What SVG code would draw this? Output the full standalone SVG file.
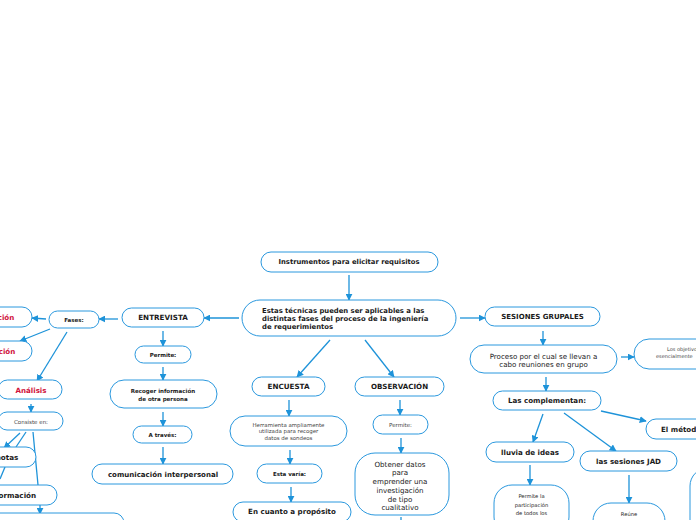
<svg xmlns="http://www.w3.org/2000/svg" width="696" height="520" viewBox="0 0 696 520">
<defs>
<marker id="ah" viewBox="0 0 10 10" refX="9" refY="5" markerWidth="7" markerHeight="7" markerUnits="userSpaceOnUse" orient="auto">
<path d="M0,0 L10,5 L0,10 z" fill="#1e93d9"/>
</marker>
<style>
.n{fill:#fff;stroke:#2a98de;stroke-width:1}
.c line{stroke:#1e93d9;stroke-width:1.3;fill:none}
.a{marker-end:url(#ah)}
text{font-family:"DejaVu Sans","Verdana",sans-serif;fill:#1a1a1a;text-anchor:middle;dominant-baseline:central}
.b{font-weight:bold}
.r{fill:#d0103a;font-weight:bold}
.g{fill:#444}
</style>
</defs>
<rect width="696" height="520" fill="#fff"/>

<g class="c">
<line class="a" x1="349" y1="275" x2="349" y2="300"/>
<line class="a" x1="239" y1="318" x2="204" y2="318"/>
<line class="a" x1="118" y1="319" x2="99" y2="319"/>
<line class="a" x1="46" y1="319" x2="32" y2="318"/>
<line class="a" x1="50" y1="329" x2="20" y2="341"/>
<line class="a" x1="67" y1="332" x2="37" y2="381"/>
<line class="a" x1="31" y1="404" x2="31" y2="412"/>
<line class="a" x1="20" y1="433" x2="4" y2="448"/>
<line x1="26" y1="432" x2="16" y2="447"/>
<line x1="5" y1="467" x2="0" y2="479"/>
<line x1="33" y1="432" x2="38" y2="485"/>
<line class="a" x1="40" y1="505" x2="40" y2="514"/>
<line class="a" x1="163" y1="331" x2="163" y2="346"/>
<line class="a" x1="163" y1="367" x2="163" y2="380"/>
<line class="a" x1="163" y1="412" x2="163" y2="426"/>
<line class="a" x1="163" y1="447" x2="163" y2="464"/>
<line class="a" x1="330" y1="340" x2="297" y2="377"/>
<line class="a" x1="289" y1="400" x2="289" y2="416"/>
<line class="a" x1="290" y1="450" x2="290" y2="464"/>
<line class="a" x1="291" y1="487" x2="291" y2="502"/>
<line class="a" x1="365" y1="340" x2="394" y2="377"/>
<line class="a" x1="400" y1="400" x2="400" y2="415"/>
<line class="a" x1="401" y1="438" x2="401" y2="453"/>
<line x1="401" y1="517" x2="401" y2="520"/>
<line class="a" x1="460" y1="318" x2="485" y2="318"/>
<line class="a" x1="543" y1="331" x2="543" y2="345"/>
<line class="a" x1="621" y1="357" x2="634" y2="357"/>
<line class="a" x1="546" y1="377" x2="546" y2="391"/>
<line class="a" x1="601" y1="411" x2="646" y2="421"/>
<line class="a" x1="543" y1="414" x2="533" y2="442"/>
<line class="a" x1="564" y1="413" x2="616" y2="451"/>
<line class="a" x1="530" y1="465" x2="530" y2="485"/>
<line class="a" x1="629" y1="475" x2="629" y2="503"/>
</g>

<g id="instrumentos"><rect class="n" x="261" y="252" width="177" height="20" rx="10"/><text class="b" x="349" y="262" font-size="6.8">Instrumentos para elicitar requisitos</text></g>

<g id="central"><rect class="n" x="242" y="300" width="214" height="36" rx="18"/>
<text class="b" font-size="6.85" style="text-anchor:start"><tspan x="262" y="310.5">Estas técnicas pueden ser aplicables a las</tspan><tspan x="262" y="318.5">distintas fases del proceso de la ingeniería</tspan><tspan x="262" y="327">de requerimientos</tspan></text></g>

<g id="entrevista"><rect class="n" x="122" y="308" width="82" height="19" rx="9.5"/><text class="b" x="163" y="317.5" font-size="7.2">ENTREVISTA</text></g>
<g id="fases"><rect class="n" x="49" y="311" width="50" height="17" rx="8.5"/><text class="b" x="74" y="319.5" font-size="5.5">Fases:</text></g>
<g id="fase1"><rect class="n" x="-40" y="307" width="72" height="20" rx="10"/><text class="r" x="6" y="317" font-size="7.1">ción</text></g>
<g id="fase2"><rect class="n" x="-40" y="341" width="72" height="20" rx="10"/><text class="r" x="7" y="351" font-size="7.1">ción</text></g>
<g id="analisis"><rect class="n" x="-2" y="380" width="64" height="19" rx="9.5"/><text class="r" x="31" y="390" font-size="7.1">Análisis</text></g>
<g id="consiste"><rect class="n" x="-2" y="412" width="65" height="18" rx="9"/><text class="g" x="31" y="421.5" font-size="5.5">Consiste en:</text></g>
<g id="notas"><rect class="n" x="-40" y="447" width="76" height="20" rx="10"/><text class="b" x="7" y="457" font-size="7.2">notas</text></g>
<g id="informacion"><rect class="n" x="-40" y="485" width="97" height="20" rx="10"/><text class="b" x="12" y="495" font-size="7.2">información</text></g>
<g id="bottomleft"><rect class="n" x="-10" y="513" width="134" height="20" rx="10"/></g>

<g id="permite1"><rect class="n" x="135" y="346" width="56" height="17" rx="8.5"/><text class="b" x="163" y="354.5" font-size="5.5">Permite:</text></g>
<g id="recoger"><rect class="n" x="110" y="380" width="107" height="28" rx="14"/><text class="b" font-size="5.5"><tspan x="163" y="390.5">Recoger información</tspan><tspan x="163" y="398.5">de otra persona</tspan></text></g>
<g id="atraves"><rect class="n" x="133" y="426" width="59" height="17" rx="8.5"/><text class="b" x="162.5" y="434.5" font-size="5.5">A través:</text></g>
<g id="comunicacion"><rect class="n" x="92" y="464" width="141" height="20" rx="10"/><text class="b" x="163" y="474" font-size="7.05">comunicación interpersonal</text></g>

<g id="encuesta"><rect class="n" x="252" y="377" width="73" height="19" rx="9.5"/><text class="b" x="288.5" y="386.5" font-size="7.2">ENCUESTA</text></g>
<g id="herramienta"><rect class="n" x="230" y="416" width="117" height="30" rx="15"/><text class="g" font-size="5.45"><tspan x="288.5" y="424.5">Herramienta ampliamente</tspan><tspan x="288.5" y="431">utilizada para recoger</tspan><tspan x="288.5" y="437.5">datos de sondeos</tspan></text></g>
<g id="estavaria"><rect class="n" x="257" y="464" width="65" height="19" rx="9.5"/><text class="b" x="289.5" y="473.5" font-size="5.5">Esta varía:</text></g>
<g id="proposito"><rect class="n" x="233" y="502" width="118" height="20" rx="10"/><text class="b" x="292" y="511.5" font-size="7.1">En cuanto a propósito</text></g>

<g id="observacion"><rect class="n" x="355" y="377" width="89" height="19" rx="9.5"/><text class="b" x="399.5" y="386.5" font-size="7.1">OBSERVACIÓN</text></g>
<g id="permite2"><rect class="n" x="373" y="415" width="55" height="19" rx="9.5"/><text class="g" x="400.5" y="424.5" font-size="5.5">Permite:</text></g>
<g id="obtener"><rect class="n" x="355" y="453" width="94" height="62" rx="20"/><text font-size="7.1" fill="#333"><tspan x="400" y="463.5">Obtener datos</tspan><tspan x="400" y="472">para</tspan><tspan x="400" y="481">emprender una</tspan><tspan x="400" y="489.5">investigación</tspan><tspan x="400" y="498.5">de tipo</tspan><tspan x="400" y="507">cualitativo</tspan></text></g>

<g id="sesiones"><rect class="n" x="485" y="307" width="115" height="19" rx="9.5"/><text class="b" x="542.5" y="316.5" font-size="7">SESIONES GRUPALES</text></g>
<g id="proceso"><rect class="n" x="470" y="345" width="147" height="28" rx="14"/><text font-size="7.1" fill="#333"><tspan x="543.5" y="355.5">Proceso por el cual se llevan a</tspan><tspan x="543.5" y="364">cabo reuniones en grupo</tspan></text></g>
<g id="objetivos"><rect class="n" x="634" y="339" width="80" height="30" rx="15"/><text class="g" font-size="5" style="text-anchor:start"><tspan x="667" y="348.5">Los objetivos</tspan><tspan x="656" y="355.5">esencialmente</tspan></text></g>
<g id="complementan"><rect class="n" x="493" y="391" width="108" height="19" rx="9.5"/><text class="b" x="547" y="400.5" font-size="7.1">Las complementan:</text></g>
<g id="metodo"><rect class="n" x="646" y="419" width="70" height="20" rx="10"/><text class="b" x="661" y="429" font-size="7.1" style="text-anchor:start">El método</text></g>
<g id="lluvia"><rect class="n" x="486" y="442" width="88" height="20" rx="10"/><text class="b" x="530" y="452" font-size="7.1">lluvia de ideas</text></g>
<g id="jad"><rect class="n" x="580" y="451" width="97" height="20" rx="10"/><text class="b" x="628.5" y="461" font-size="7.1">las sesiones JAD</text></g>
<g id="participacion"><rect class="n" x="494" y="485" width="75" height="50" rx="18"/><text font-size="5.2" fill="#333"><tspan x="531.5" y="495.5">Permite la</tspan><tspan x="531.5" y="504.5">participación</tspan><tspan x="531.5" y="513">de todos los</tspan></text></g>
<g id="reune"><rect class="n" x="593" y="503" width="72" height="40" rx="18"/><text font-size="5.2" fill="#333" x="629" y="514">Reúne</text></g>
<g id="rightedge"><rect class="n" x="690" y="468" width="60" height="70" rx="18"/></g>
</svg>
